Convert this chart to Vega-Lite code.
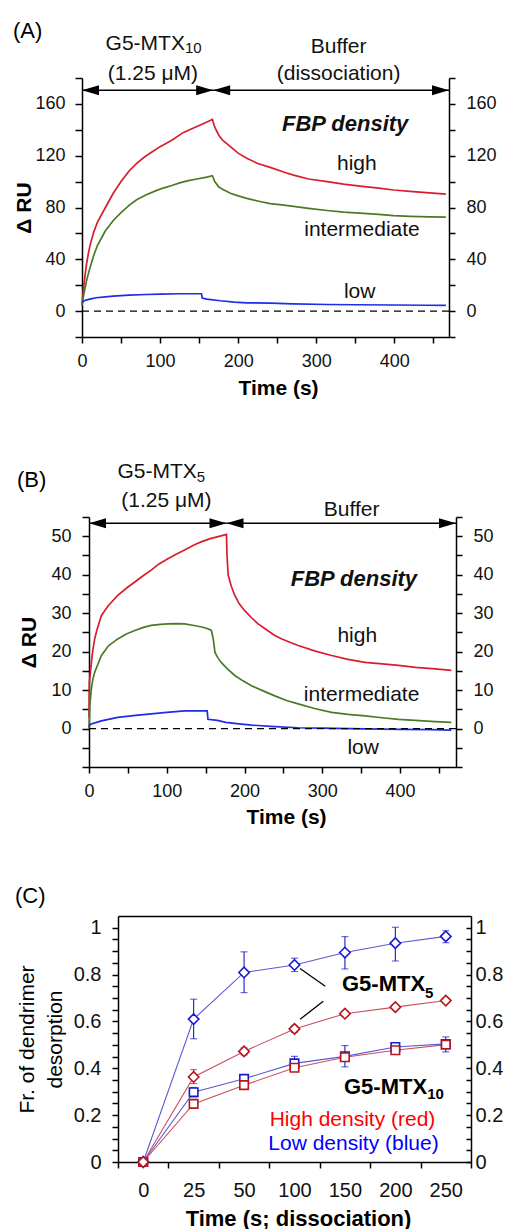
{
"$schema": "https://vega.github.io/schema/vega-lite/v6.json",
"padding": {"left": 0, "top": 20, "right": 0, "bottom": 0},
"config": {
  "font": "Liberation Sans",
  "view": {"stroke": null},
  "axis": {"domainColor": "#000", "tickColor": "#000", "labelColor": "#111", "titleColor": "#000", "domainWidth": 1.5, "tickWidth": 1.5, "labelFontSize": 18, "titleFontSize": 21, "titleFontWeight": "bold", "grid": false},
  "title": {"fontWeight": "normal", "fontSize": 22, "color": "#000"},
  "text": {"font": "Liberation Sans", "color": "#111"}
},
"vconcat": [
{"hconcat": [
{"width": 13, "height": 10, "data": {"values": []}, "mark": "point"},
{
  "width": 367, "height": 259,
  "title": {"text": "(A)", "anchor": "start", "frame": "group", "dx": -69, "offset": -10},
  "layer": [
    {
      "data": {"values": [
        {"d":"high","t":0,"v":4},{"d":"high","t":2,"v":18},{"d":"high","t":4,"v":28},{"d":"high","t":6,"v":37},{"d":"high","t":8,"v":44},{"d":"high","t":10,"v":50},{"d":"high","t":15,"v":61},{"d":"high","t":20,"v":69},{"d":"high","t":30,"v":80},{"d":"high","t":40,"v":91},{"d":"high","t":50,"v":100},{"d":"high","t":60,"v":108},{"d":"high","t":70,"v":114},{"d":"high","t":80,"v":119},{"d":"high","t":90,"v":123},{"d":"high","t":100,"v":127},{"d":"high","t":115,"v":132},{"d":"high","t":130,"v":138},{"d":"high","t":145,"v":142},{"d":"high","t":160,"v":146},{"d":"high","t":167,"v":148},{"d":"high","t":170,"v":142},{"d":"high","t":175,"v":136},{"d":"high","t":180,"v":132},{"d":"high","t":190,"v":127},{"d":"high","t":200,"v":122},{"d":"high","t":211,"v":118},{"d":"high","t":225,"v":114},{"d":"high","t":241,"v":111},{"d":"high","t":260,"v":107},{"d":"high","t":271,"v":105},{"d":"high","t":290,"v":102},{"d":"high","t":314,"v":100},{"d":"high","t":335,"v":98},{"d":"high","t":356,"v":96.5},{"d":"high","t":380,"v":95},{"d":"high","t":399,"v":93.5},{"d":"high","t":420,"v":92.5},{"d":"high","t":445,"v":91.3},{"d":"high","t":466,"v":90.3},
        {"d":"intermediate","t":0,"v":5},{"d":"intermediate","t":2,"v":12},{"d":"intermediate","t":4,"v":18},{"d":"intermediate","t":6,"v":24},{"d":"intermediate","t":10,"v":33},{"d":"intermediate","t":15,"v":43},{"d":"intermediate","t":20,"v":51},{"d":"intermediate","t":30,"v":62},{"d":"intermediate","t":40,"v":70},{"d":"intermediate","t":50,"v":76},{"d":"intermediate","t":61,"v":82},{"d":"intermediate","t":70,"v":86},{"d":"intermediate","t":83,"v":90},{"d":"intermediate","t":95,"v":93},{"d":"intermediate","t":104,"v":95},{"d":"intermediate","t":115,"v":97},{"d":"intermediate","t":125,"v":99},{"d":"intermediate","t":135,"v":100.5},{"d":"intermediate","t":147,"v":102},{"d":"intermediate","t":160,"v":103.5},{"d":"intermediate","t":167,"v":104.5},{"d":"intermediate","t":170,"v":100},{"d":"intermediate","t":175,"v":96},{"d":"intermediate","t":180,"v":94},{"d":"intermediate","t":190,"v":91},{"d":"intermediate","t":200,"v":89},{"d":"intermediate","t":211,"v":87},{"d":"intermediate","t":228,"v":84.6},{"d":"intermediate","t":241,"v":83},{"d":"intermediate","t":256,"v":82},{"d":"intermediate","t":271,"v":80.8},{"d":"intermediate","t":290,"v":79.3},{"d":"intermediate","t":314,"v":77.7},{"d":"intermediate","t":335,"v":76.5},{"d":"intermediate","t":356,"v":75.7},{"d":"intermediate","t":380,"v":74.7},{"d":"intermediate","t":399,"v":73.8},{"d":"intermediate","t":420,"v":73.2},{"d":"intermediate","t":445,"v":72.8},{"d":"intermediate","t":466,"v":72.5},
        {"d":"low","t":0,"v":7},{"d":"low","t":5,"v":8.5},{"d":"low","t":10,"v":9.2},{"d":"low","t":18,"v":10.3},{"d":"low","t":30,"v":11},{"d":"low","t":40,"v":11.5},{"d":"low","t":60,"v":12.3},{"d":"low","t":83,"v":12.8},{"d":"low","t":100,"v":13.1},{"d":"low","t":125,"v":13.4},{"d":"low","t":153,"v":13.4},{"d":"low","t":154,"v":10},{"d":"low","t":160,"v":9.3},{"d":"low","t":177,"v":8},{"d":"low","t":195,"v":7},{"d":"low","t":211,"v":6.4},{"d":"low","t":241,"v":6.2},{"d":"low","t":270,"v":5.6},{"d":"low","t":314,"v":5.1},{"d":"low","t":350,"v":4.9},{"d":"low","t":400,"v":4.7},{"d":"low","t":440,"v":4.5},{"d":"low","t":466,"v":4.4}
      ]},
      "mark": {"type": "line", "strokeWidth": 1.7},
      "encoding": {
        "x": {"field": "t", "type": "quantitative", "scale": {"domain": [0, 470], "nice": false, "zero": false},
              "axis": {"title": "Time (s)", "titleX": 196, "values": [0,50,100,150,200,250,300,350,400,450], "labelExpr": "datum.value % 100 == 0 ? datum.label : ''", "labelFlush": false, "tickSize": 6, "labelPadding": 9, "titlePadding": 7}},
        "y": {"field": "v", "type": "quantitative", "scale": {"domain": [-20, 180], "nice": false, "zero": false},
              "axis": {"orient": "left", "title": "Δ RU", "values": [-20,0,20,40,60,80,100,120,140,160,180], "labelExpr": "datum.value >= 0 && datum.value % 40 == 0 ? datum.label : ''", "tickSize": 7, "labelPadding": 10, "titlePadding": 0}},
        "color": {"field": "d", "type": "nominal", "scale": {"domain": ["high", "intermediate", "low"], "range": ["#d81e2c", "#4a7a26", "#1c2ee8"]}, "legend": null}
      }
    },
    {
      "data": {"values": [{"v": 0}]},
      "mark": {"type": "rule", "strokeDash": [7, 5], "strokeWidth": 1.3, "color": "#000"},
      "encoding": {
        "y": {"field": "v", "type": "quantitative", "axis": {"orient": "right", "title": null, "values": [-20,0,20,40,60,80,100,120,140,160,180], "labelExpr": "datum.value >= 0 && datum.value % 40 == 0 ? datum.label : ''", "tickSize": 6, "labelPadding": 11}}
      }
    },
    {
      "data": {"values": [{"t": 0, "t2": 168, "v": 170.5}, {"t": 168, "t2": 470, "v": 170.5}]},
      "mark": {"type": "rule", "strokeWidth": 1.5, "color": "#000"},
      "encoding": {
        "x": {"field": "t", "type": "quantitative"},
        "x2": {"field": "t2"},
        "y": {"field": "v", "type": "quantitative", "axis": null}
      }
    },
    {
      "data": {"values": [{"t": 0, "v": 170.5, "dir": "left"}, {"t": 168, "v": 170.5, "dir": "right"}, {"t": 168, "v": 170.5, "dir": "left"}, {"t": 470, "v": 170.5, "dir": "right"}]},
      "mark": {"type": "point", "filled": true, "size": 100, "color": "#000", "opacity": 1},
      "encoding": {
        "x": {"field": "t", "type": "quantitative"},
        "y": {"field": "v", "type": "quantitative", "axis": null},
        "shape": {"field": "dir", "type": "nominal", "scale": {"domain": ["left", "right"], "range": ["M0,0L3.4,-1L3.4,1Z", "M0,0L-3.4,-1L-3.4,1Z"]}, "legend": null}
      }
    },
    {
      "data": {"values": [
        {"label": "(1.25 μM)", "t": 90.8, "v": 178.5},
        {"label": "Buffer", "t": 328.6, "v": 199.2},
        {"label": "(dissociation)", "t": 328.6, "v": 178.5},
        {"label": "high", "t": 352, "v": 109},
        {"label": "intermediate", "t": 358.6, "v": 57.7},
        {"label": "low", "t": 355.6, "v": 10.3}
      ]},
      "mark": {"type": "text", "fontSize": 21, "align": "center", "baseline": "alphabetic"},
      "encoding": {
        "x": {"field": "t", "type": "quantitative"},
        "y": {"field": "v", "type": "quantitative", "axis": null},
        "text": {"field": "label"}
      }
    },
    {
      "data": {"values": [{"label": "G5-MTX", "t": 131.8, "v": 201.3}]},
      "mark": {"type": "text", "fontSize": 21, "align": "right", "baseline": "alphabetic"},
      "encoding": {
        "x": {"field": "t", "type": "quantitative"},
        "y": {"field": "v", "type": "quantitative", "axis": null},
        "text": {"field": "label"}
      }
    },
    {
      "data": {"values": [{"label": "10", "t": 131.8, "v": 199.2}]},
      "mark": {"type": "text", "fontSize": 15, "align": "left", "baseline": "alphabetic"},
      "encoding": {
        "x": {"field": "t", "type": "quantitative"},
        "y": {"field": "v", "type": "quantitative", "axis": null},
        "text": {"field": "label"}
      }
    },
    {
      "data": {"values": [{"label": "FBP density", "t": 337, "v": 139.2}]},
      "mark": {"type": "text", "fontSize": 22, "fontWeight": "bold", "fontStyle": "italic", "align": "center", "baseline": "alphabetic"},
      "encoding": {
        "x": {"field": "t", "type": "quantitative"},
        "y": {"field": "v", "type": "quantitative", "axis": null},
        "text": {"field": "label"}
      }
    }
  ],
  "resolve": {"axis": {"y": "independent"}}
}], "spacing": 0},
{"vconcat": [
{"hconcat": [
{"width": 17, "height": 10, "data": {"values": []}, "mark": "point"},
{
  "width": 367, "height": 250,
  "title": {"text": "(B)", "anchor": "start", "frame": "group", "dx": -72, "offset": -31},
  "layer": [
    {
      "data": {"values": [
        {"d":"high","t":0,"v":3},{"d":"high","t":0.5,"v":12},{"d":"high","t":1,"v":13},{"d":"high","t":3,"v":17},{"d":"high","t":5,"v":20.5},{"d":"high","t":7.3,"v":23.3},{"d":"high","t":10,"v":25.5},{"d":"high","t":16,"v":29.4},{"d":"high","t":25,"v":32},{"d":"high","t":37,"v":34.6},{"d":"high","t":50,"v":36.8},{"d":"high","t":59,"v":38.1},{"d":"high","t":70,"v":39.8},{"d":"high","t":80,"v":41.2},{"d":"high","t":90,"v":42.8},{"d":"high","t":102,"v":44.2},{"d":"high","t":112,"v":45.3},{"d":"high","t":123,"v":46.4},{"d":"high","t":135,"v":47.7},{"d":"high","t":145,"v":48.6},{"d":"high","t":155,"v":49.3},{"d":"high","t":166,"v":49.9},{"d":"high","t":176.8,"v":50.5},{"d":"high","t":177.5,"v":45},{"d":"high","t":179,"v":39.9},{"d":"high","t":183,"v":37},{"d":"high","t":187.5,"v":34.6},{"d":"high","t":193,"v":32.5},{"d":"high","t":200,"v":30.7},{"d":"high","t":209,"v":28.8},{"d":"high","t":217.5,"v":27.2},{"d":"high","t":226,"v":26},{"d":"high","t":239,"v":24.2},{"d":"high","t":248,"v":23.3},{"d":"high","t":260,"v":22.3},{"d":"high","t":269,"v":21.6},{"d":"high","t":290,"v":20.2},{"d":"high","t":312,"v":19},{"d":"high","t":333,"v":18},{"d":"high","t":355,"v":17.2},{"d":"high","t":377,"v":16.8},{"d":"high","t":398,"v":16.4},{"d":"high","t":420,"v":15.9},{"d":"high","t":445,"v":15.5},{"d":"high","t":466,"v":15.1},
        {"d":"intermediate","t":0,"v":0},{"d":"intermediate","t":1,"v":6},{"d":"intermediate","t":3,"v":10.3},{"d":"intermediate","t":5,"v":12.8},{"d":"intermediate","t":7.3,"v":14.6},{"d":"intermediate","t":10,"v":16},{"d":"intermediate","t":16,"v":19},{"d":"intermediate","t":25,"v":21.5},{"d":"intermediate","t":37,"v":23.3},{"d":"intermediate","t":48,"v":24.6},{"d":"intermediate","t":59,"v":25.5},{"d":"intermediate","t":70,"v":26.3},{"d":"intermediate","t":80,"v":26.8},{"d":"intermediate","t":92,"v":27.1},{"d":"intermediate","t":102,"v":27.2},{"d":"intermediate","t":113,"v":27.3},{"d":"intermediate","t":123,"v":27.2},{"d":"intermediate","t":135,"v":26.8},{"d":"intermediate","t":145,"v":26.4},{"d":"intermediate","t":152,"v":26},{"d":"intermediate","t":157.5,"v":25.5},{"d":"intermediate","t":160,"v":23},{"d":"intermediate","t":162,"v":19.8},{"d":"intermediate","t":166,"v":18.3},{"d":"intermediate","t":170,"v":17.2},{"d":"intermediate","t":178,"v":15.5},{"d":"intermediate","t":187.5,"v":13.8},{"d":"intermediate","t":198,"v":12.4},{"d":"intermediate","t":209,"v":11.1},{"d":"intermediate","t":224,"v":9.8},{"d":"intermediate","t":239,"v":8.5},{"d":"intermediate","t":254,"v":7.3},{"d":"intermediate","t":269,"v":6.4},{"d":"intermediate","t":290,"v":5.2},{"d":"intermediate","t":312,"v":4.2},{"d":"intermediate","t":333,"v":3.7},{"d":"intermediate","t":355,"v":3.3},{"d":"intermediate","t":377,"v":2.8},{"d":"intermediate","t":398,"v":2.4},{"d":"intermediate","t":420,"v":2.1},{"d":"intermediate","t":445,"v":1.8},{"d":"intermediate","t":466,"v":1.6},
        {"d":"low","t":0,"v":0.5},{"d":"low","t":2,"v":1.1},{"d":"low","t":16,"v":2},{"d":"low","t":37,"v":2.9},{"d":"low","t":60,"v":3.4},{"d":"low","t":80,"v":3.8},{"d":"low","t":100,"v":4.2},{"d":"low","t":123,"v":4.6},{"d":"low","t":152,"v":4.6},{"d":"low","t":153,"v":2.4},{"d":"low","t":165,"v":2.1},{"d":"low","t":176,"v":1.6},{"d":"low","t":190,"v":1.3},{"d":"low","t":209,"v":0.9},{"d":"low","t":239,"v":0.5},{"d":"low","t":269,"v":0.2},{"d":"low","t":300,"v":0.1},{"d":"low","t":355,"v":-0.1},{"d":"low","t":400,"v":-0.2},{"d":"low","t":440,"v":-0.3},{"d":"low","t":466,"v":-0.4}
      ]},
      "mark": {"type": "line", "strokeWidth": 1.7},
      "encoding": {
        "x": {"field": "t", "type": "quantitative", "scale": {"domain": [0, 472], "nice": false, "zero": false},
              "axis": {"title": "Time (s)", "titleX": 197, "values": [0,50,100,150,200,250,300,350,400,450], "labelExpr": "datum.value % 100 == 0 ? datum.label : ''", "labelFlush": false, "tickSize": 6, "labelPadding": 9, "titlePadding": 6}},
        "y": {"field": "v", "type": "quantitative", "scale": {"domain": [-10, 55], "nice": false, "zero": false},
              "axis": {"orient": "left", "title": "Δ RU", "values": [-10,-5,0,5,10,15,20,25,30,35,40,45,50,55], "labelExpr": "datum.value >= 0 && datum.value % 10 == 0 ? datum.label : ''", "tickSize": 7, "labelPadding": 11, "titlePadding": 11}},
        "color": {"field": "d", "type": "nominal", "scale": {"domain": ["high", "intermediate", "low"], "range": ["#d81e2c", "#4a7a26", "#1c2ee8"]}, "legend": null}
      }
    },
    {
      "data": {"values": [{"v": 0}]},
      "mark": {"type": "rule", "strokeDash": [7, 5], "strokeWidth": 1.3, "color": "#000"},
      "encoding": {
        "y": {"field": "v", "type": "quantitative", "axis": {"orient": "right", "title": null, "values": [-10,-5,0,5,10,15,20,25,30,35,40,45,50,55], "labelExpr": "datum.value >= 0 && datum.value % 10 == 0 ? datum.label : ''", "tickSize": 6, "labelPadding": 11}}
      }
    },
    {
      "data": {"values": [{"t": 0, "t2": 176.8, "v": 53.4}, {"t": 176.8, "t2": 472, "v": 53.4}]},
      "mark": {"type": "rule", "strokeWidth": 1.5, "color": "#000"},
      "encoding": {
        "x": {"field": "t", "type": "quantitative"},
        "x2": {"field": "t2"},
        "y": {"field": "v", "type": "quantitative", "axis": null}
      }
    },
    {
      "data": {"values": [{"t": 0, "v": 53.4, "dir": "left"}, {"t": 176.8, "v": 53.4, "dir": "right"}, {"t": 176.8, "v": 53.4, "dir": "left"}, {"t": 472, "v": 53.4, "dir": "right"}]},
      "mark": {"type": "point", "filled": true, "size": 100, "color": "#000", "opacity": 1},
      "encoding": {
        "x": {"field": "t", "type": "quantitative"},
        "y": {"field": "v", "type": "quantitative", "axis": null},
        "shape": {"field": "dir", "type": "nominal", "scale": {"domain": ["left", "right"], "range": ["M0,0L3.4,-1L3.4,1Z", "M0,0L-3.4,-1L-3.4,1Z"]}, "legend": null}
      }
    },
    {
      "data": {"values": [
        {"label": "(1.25 μM)", "t": 99.6, "v": 57.5},
        {"label": "Buffer", "t": 337.7, "v": 55.3},
        {"label": "high", "t": 345, "v": 22.5},
        {"label": "intermediate", "t": 350.6, "v": 7.2},
        {"label": "low", "t": 352.6, "v": -6.7}
      ]},
      "mark": {"type": "text", "fontSize": 21, "align": "center", "baseline": "alphabetic"},
      "encoding": {
        "x": {"field": "t", "type": "quantitative"},
        "y": {"field": "v", "type": "quantitative", "axis": null},
        "text": {"field": "label"}
      }
    },
    {
      "data": {"values": [{"label": "G5-MTX", "t": 138.6, "v": 65.1}]},
      "mark": {"type": "text", "fontSize": 21, "align": "right", "baseline": "alphabetic"},
      "encoding": {
        "x": {"field": "t", "type": "quantitative"},
        "y": {"field": "v", "type": "quantitative", "axis": null},
        "text": {"field": "label"}
      }
    },
    {
      "data": {"values": [{"label": "5", "t": 138.6, "v": 64.2}]},
      "mark": {"type": "text", "fontSize": 15, "align": "left", "baseline": "alphabetic"},
      "encoding": {
        "x": {"field": "t", "type": "quantitative"},
        "y": {"field": "v", "type": "quantitative", "axis": null},
        "text": {"field": "label"}
      }
    },
    {
      "data": {"values": [{"label": "FBP density", "t": 340.7, "v": 37.1}]},
      "mark": {"type": "text", "fontSize": 22, "fontWeight": "bold", "fontStyle": "italic", "align": "center", "baseline": "alphabetic"},
      "encoding": {
        "x": {"field": "t", "type": "quantitative"},
        "y": {"field": "v", "type": "quantitative", "axis": null},
        "text": {"field": "label"}
      }
    }
  ],
  "resolve": {"axis": {"y": "independent"}}
}], "spacing": 0},
{"hconcat": [
{"width": 15, "height": 10, "data": {"values": []}, "mark": "point"},
{
  "width": 353, "height": 246,
  "title": {"text": "(C)", "anchor": "start", "frame": "group", "dx": -103, "offset": 8},
  "layer": [
    {
      "data": {"values": [
        {"t":0,"dens":"Low","conj":"MTX5","f":0,"lo":0,"hi":0},
        {"t":25,"dens":"Low","conj":"MTX5","f":0.61,"lo":0.526,"hi":0.695},
        {"t":50,"dens":"Low","conj":"MTX5","f":0.809,"lo":0.723,"hi":0.897},
        {"t":100,"dens":"Low","conj":"MTX5","f":0.841,"lo":0.813,"hi":0.87},
        {"t":150,"dens":"Low","conj":"MTX5","f":0.894,"lo":0.824,"hi":0.962},
        {"t":200,"dens":"Low","conj":"MTX5","f":0.934,"lo":0.858,"hi":1.002},
        {"t":250,"dens":"Low","conj":"MTX5","f":0.963,"lo":0.936,"hi":0.987},
        {"t":0,"dens":"Low","conj":"MTX10","f":0,"lo":0,"hi":0},
        {"t":25,"dens":"Low","conj":"MTX10","f":0.298,"lo":0.278,"hi":0.318},
        {"t":50,"dens":"Low","conj":"MTX10","f":0.355,"lo":0.34,"hi":0.37},
        {"t":100,"dens":"Low","conj":"MTX10","f":0.421,"lo":0.391,"hi":0.451},
        {"t":150,"dens":"Low","conj":"MTX10","f":0.451,"lo":0.406,"hi":0.497},
        {"t":200,"dens":"Low","conj":"MTX10","f":0.491,"lo":0.479,"hi":0.503},
        {"t":250,"dens":"Low","conj":"MTX10","f":0.504,"lo":0.47,"hi":0.534},
        {"t":0,"dens":"High","conj":"MTX10","f":0,"lo":0,"hi":0},
        {"t":25,"dens":"High","conj":"MTX10","f":0.248,"lo":0.238,"hi":0.258},
        {"t":50,"dens":"High","conj":"MTX10","f":0.328,"lo":0.318,"hi":0.338},
        {"t":100,"dens":"High","conj":"MTX10","f":0.402,"lo":0.392,"hi":0.412},
        {"t":150,"dens":"High","conj":"MTX10","f":0.447,"lo":0.437,"hi":0.457},
        {"t":200,"dens":"High","conj":"MTX10","f":0.477,"lo":0.469,"hi":0.485},
        {"t":250,"dens":"High","conj":"MTX10","f":0.501,"lo":0.491,"hi":0.511},
        {"t":0,"dens":"High","conj":"MTX5","f":0,"lo":0,"hi":0},
        {"t":25,"dens":"High","conj":"MTX5","f":0.363,"lo":0.335,"hi":0.394},
        {"t":50,"dens":"High","conj":"MTX5","f":0.472,"lo":0.457,"hi":0.487},
        {"t":100,"dens":"High","conj":"MTX5","f":0.568,"lo":0.553,"hi":0.583},
        {"t":150,"dens":"High","conj":"MTX5","f":0.633,"lo":0.621,"hi":0.645},
        {"t":200,"dens":"High","conj":"MTX5","f":0.661,"lo":0.651,"hi":0.671},
        {"t":250,"dens":"High","conj":"MTX5","f":0.689,"lo":0.679,"hi":0.699}
      ]},
      "layer": [
        {
          "mark": {"type": "line", "strokeWidth": 1.1},
          "encoding": {
            "x": {"field": "t", "type": "ordinal", "scale": {"type": "band", "domain": [0,25,50,100,150,200,250], "paddingInner": 0, "paddingOuter": 0},
                  "axis": {"title": "Time (s; dissociation)", "titleX": 180, "tickBand": "extent", "labelAngle": 0, "labelFontSize": 20, "titleFontSize": 22, "labelPadding": 12, "tickSize": 6, "titlePadding": 8}},
            "y": {"field": "f", "type": "quantitative", "scale": {"domain": [0, 1.05], "nice": false, "zero": false},
                  "axis": {"orient": "right", "title": null, "values": [0,0.05,0.1,0.15,0.2,0.25,0.3,0.35,0.4,0.45,0.5,0.55,0.6,0.65,0.7,0.75,0.8,0.85,0.9,0.95,1], "labelExpr": "abs(datum.value*5 - round(datum.value*5)) < 0.001 ? format(datum.value, '~g') : ''", "labelFontSize": 20, "tickSize": -5, "labelPadding": 9}},
            "color": {"field": "dens", "type": "nominal", "scale": {"domain": ["High", "Low"], "range": ["#c8505e", "#5a5ad2"]}, "legend": null},
            "detail": {"field": "conj"}
          }
        },
        {
          "transform": [{"filter": "datum.t > 0"}],
          "mark": {"type": "rule", "strokeWidth": 1.1},
          "encoding": {
            "x": {"field": "t", "type": "ordinal"},
            "y": {"field": "lo", "type": "quantitative", "axis": null},
            "y2": {"field": "hi"},
            "stroke": {"field": "dens", "type": "nominal", "scale": {"domain": ["High", "Low"], "range": ["#b8141e", "#1a1ad0"]}, "legend": null}
          }
        },
        {
          "transform": [{"filter": "datum.t > 0"}],
          "mark": {"type": "tick", "size": 7, "thickness": 1.1},
          "encoding": {
            "x": {"field": "t", "type": "ordinal"},
            "y": {"field": "lo", "type": "quantitative", "axis": null},
            "fill": {"field": "dens", "type": "nominal", "scale": {"domain": ["High", "Low"], "range": ["#b8141e", "#1a1ad0"]}, "legend": null}
          }
        },
        {
          "transform": [{"filter": "datum.t > 0"}],
          "mark": {"type": "tick", "size": 7, "thickness": 1.1},
          "encoding": {
            "x": {"field": "t", "type": "ordinal"},
            "y": {"field": "hi", "type": "quantitative", "axis": null},
            "fill": {"field": "dens", "type": "nominal", "scale": {"domain": ["High", "Low"], "range": ["#b8141e", "#1a1ad0"]}, "legend": null}
          }
        },
        {
          "transform": [{"filter": "datum.conj == 'MTX10'"}],
          "mark": {"type": "point", "shape": "square", "size": 72, "filled": false, "strokeWidth": 1.6, "opacity": 1, "fill": "white", "fillOpacity": 1},
          "encoding": {
            "x": {"field": "t", "type": "ordinal"},
            "y": {"field": "f", "type": "quantitative", "axis": null},
            "stroke": {"field": "dens", "type": "nominal", "scale": {"domain": ["High", "Low"], "range": ["#b8141e", "#1a1ad0"]}, "legend": null}
          }
        },
        {
          "transform": [{"filter": "datum.conj == 'MTX5'"}],
          "mark": {"type": "point", "shape": "diamond", "size": 110, "filled": false, "strokeWidth": 1.6, "opacity": 1, "fill": "white", "fillOpacity": 1},
          "encoding": {
            "x": {"field": "t", "type": "ordinal"},
            "y": {"field": "f", "type": "quantitative", "scale": {"domain": [0, 1.05], "nice": false, "zero": false},
                  "axis": {"orient": "left", "title": ["Fr. of dendrimer", "desorption"], "titleFontWeight": "normal", "titleFontSize": 21, "titleLineHeight": 28, "values": [0,0.05,0.1,0.15,0.2,0.25,0.3,0.35,0.4,0.45,0.5,0.55,0.6,0.65,0.7,0.75,0.8,0.85,0.9,0.95,1], "labelExpr": "abs(datum.value*5 - round(datum.value*5)) < 0.001 ? format(datum.value, '~g') : ''", "labelFontSize": 20, "tickSize": 6, "labelPadding": 11, "titlePadding": 8}},
            "stroke": {"field": "dens", "type": "nominal", "scale": {"domain": ["High", "Low"], "range": ["#b8141e", "#1a1ad0"]}, "legend": null}
          }
        }
      ],
      "resolve": {"axis": {"y": "independent"}}
    },
    {
      "data": {"values": [
        {"xi": 3.11, "xi2": 3.61, "v": 0.826, "v2": 0.75},
        {"xi": 3.11, "xi2": 3.57, "v": 0.609, "v2": 0.686}
      ]},
      "mark": {"type": "rule", "strokeWidth": 1.3, "color": "#000"},
      "encoding": {
        "x": {"field": "xi", "type": "quantitative", "scale": {"domain": [-0.5, 6.5], "nice": false, "zero": false},
              "axis": {"orient": "top", "labels": false, "ticks": false, "title": null, "domainWidth": 1.5}},
        "x2": {"field": "xi2"},
        "y": {"field": "v", "type": "quantitative", "axis": null},
        "y2": {"field": "v2"}
      }
    },
    {
      "data": {"values": [{"label": "G5-MTX", "xi": 5.59, "v": 0.729}, {"label": "G5-MTX", "xi": 5.63, "v": 0.289}]},
      "mark": {"type": "text", "fontSize": 22, "fontWeight": "bold", "align": "right", "baseline": "alphabetic", "color": "#000"},
      "encoding": {
        "x": {"field": "xi", "type": "quantitative", "scale": {"domain": [-0.5, 6.5], "nice": false, "zero": false}, "axis": null},
        "y": {"field": "v", "type": "quantitative", "axis": null},
        "text": {"field": "label"}
      }
    },
    {
      "data": {"values": [{"label": "5", "xi": 5.59, "v": 0.701}, {"label": "10", "xi": 5.63, "v": 0.268}]},
      "mark": {"type": "text", "fontSize": 15, "fontWeight": "bold", "align": "left", "baseline": "alphabetic", "color": "#000"},
      "encoding": {
        "x": {"field": "xi", "type": "quantitative", "scale": {"domain": [-0.5, 6.5], "nice": false, "zero": false}, "axis": null},
        "y": {"field": "v", "type": "quantitative", "axis": null},
        "text": {"field": "label"}
      }
    },
    {
      "data": {"values": [{"label": "High density (red)", "xi": 4.15, "v": 0.152, "c": "red"}, {"label": "Low density (blue)", "xi": 4.17, "v": 0.051, "c": "blue"}]},
      "mark": {"type": "text", "fontSize": 21, "align": "center", "baseline": "alphabetic"},
      "encoding": {
        "x": {"field": "xi", "type": "quantitative", "scale": {"domain": [-0.5, 6.5], "nice": false, "zero": false}, "axis": null},
        "y": {"field": "v", "type": "quantitative", "axis": null},
        "text": {"field": "label"},
        "color": {"field": "c", "type": "nominal", "scale": {"domain": ["red", "blue"], "range": ["#ff0000", "#0000ff"]}, "legend": null}
      }
    }
  ],
  "resolve": {"scale": {"x": "independent", "color": "independent"}, "axis": {"x": "independent", "y": "independent"}}
}], "spacing": 0}
], "spacing": 58}
],
"spacing": 63
}
